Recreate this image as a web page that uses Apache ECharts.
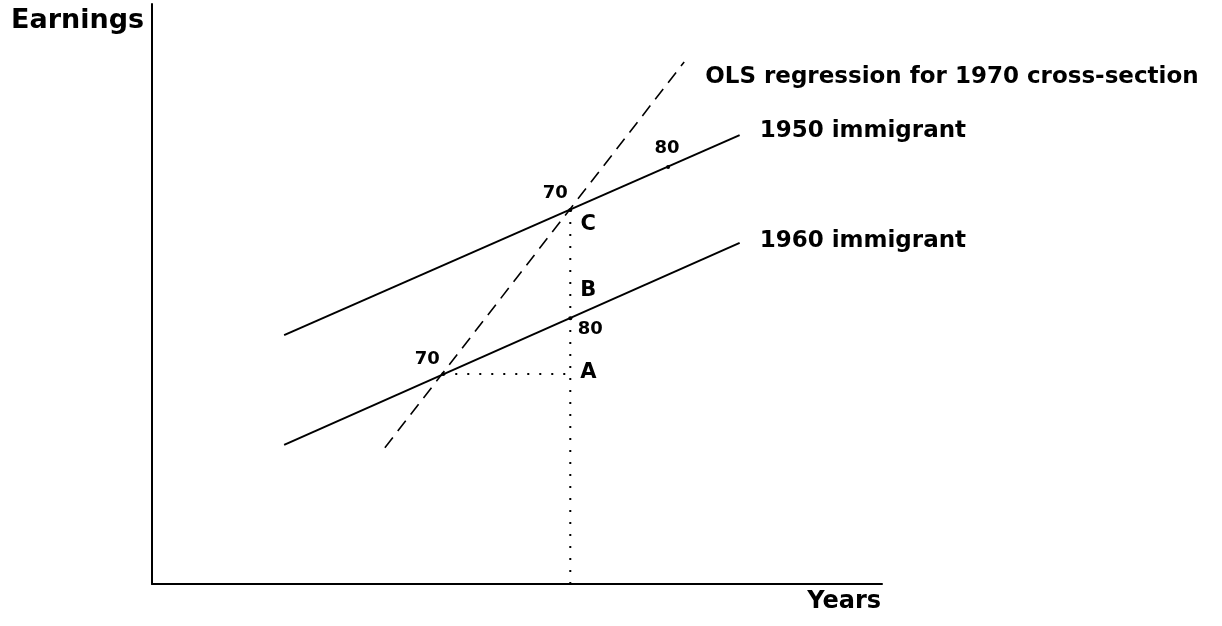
<!DOCTYPE html>
<html>
<head>
<meta charset="utf-8">
<script src="https://cdn.jsdelivr.net/npm/echarts@6/dist/echarts.min.js"></script>
<style>
  html, body { margin: 0; padding: 0; background: #fff; }
  #chart { width: 1222px; height: 626px; }
</style>
</head>
<body>
<div id="chart"></div>
<script>
// schematic units, 0..100 on both axes
const line1950 = [[18.1, 42.9], [80.5, 77.4]]
const line1960 = [[18.1, 24.0], [80.5, 58.8]]
const olsLine = [[31.9, 23.5], [72.9, 90.0]]
const dropLine = [[57.3, 64.5], [57.3, 0]]
const levelLine = [[39.9, 36.2], [57.3, 36.2]]
const lineNames = ['1950 immigrant', '1960 immigrant', 'OLS regression for 1970 cross-section']
const pointLabels = ['70', 'C', '80', 'B', '80', '70', 'A']
const pointCoords = [[57.3, 64.5], [57.3, 64.5], [70.7, 71.9], [57.3, 45.8], [57.3, 45.8], [39.9, 36.2], [57.3, 36.2]]

const FONT = 'DejaVu Sans'
// where each small label sits around its point, px
const labelOffsets = [[-15, -17], [18, 15], [-1, -19], [18, -28], [20, 11], [-16, -15], [18, -1]]
const dotted = [0, 2, 4, 5] // indices that get a little dot (the 70/80 marks)

function endLabeled (pts, text, offset) {
  return pts.map((p, i) => {
    if (i !== pts.length - 1) return { value: p }
    return {
      value: p,
      label: {
        show: true,
        position: 'right',
        distance: 0,
        offset: offset,
        formatter: text,
        color: '#000',
        fontFamily: FONT,
        fontWeight: 'bold',
        fontSize: 23
      }
    }
  })
}

function plainLine (data, lineStyle) {
  return {
    type: 'line',
    data: data,
    symbol: 'circle',
    symbolSize: 0,
    showSymbol: true,
    silent: true,
    itemStyle: { color: '#000' },
    label: { show: false },
    lineStyle: Object.assign({ color: '#000', width: 2 }, lineStyle)
  }
}

const option = {
  animation: false,
  backgroundColor: '#fff',
  grid: { left: 152, right: 340, top: 4, bottom: 42 },
  xAxis: {
    type: 'value',
    min: 0,
    max: 100,
    axisLine: { lineStyle: { color: '#000', width: 2 } },
    axisTick: { show: false },
    axisLabel: { show: false },
    splitLine: { show: false }
  },
  yAxis: {
    type: 'value',
    min: 0,
    max: 100,
    axisLine: { show: true, lineStyle: { color: '#000', width: 2 } },
    axisTick: { show: false },
    axisLabel: { show: false },
    splitLine: { show: false }
  },
  graphic: [
    {
      type: 'text',
      left: 11,
      top: 7,
      style: { text: 'Earnings', fill: '#000', font: 'bold 27px "DejaVu Sans"' }
    },
    {
      type: 'text',
      right: 341,
      top: 590,
      style: { text: 'Years', fill: '#000', font: 'bold 24px "DejaVu Sans"' }
    }
  ],
  series: [
    plainLine(endLabeled(line1950, lineNames[0], [20, -4]), {}),
    plainLine(endLabeled(line1960, lineNames[1], [20, -2]), {}),
    plainLine(endLabeled(olsLine, lineNames[2], [21, 15]), { width: 1.6, type: [13, 8] }),
    plainLine(dropLine, { width: 2, type: [2, 10] }),
    plainLine(levelLine, { width: 2, type: [2, 10] }),
    {
      type: 'scatter',
      silent: true,
      data: pointCoords.map((p, i) => ({
        value: p,
        name: pointLabels[i],
        symbolSize: dotted.indexOf(i) >= 0 ? 4 : 0,
        label: {
          offset: labelOffsets[i],
          fontSize: /\d/.test(pointLabels[i]) ? 18 : 21
        }
      })),
      itemStyle: { color: '#000', opacity: 1 },
      label: {
        show: true,
        position: 'inside',
        formatter: '{b}',
        color: '#000',
        textBorderWidth: 0,
        fontFamily: FONT,
        fontWeight: 'bold'
      }
    }
  ]
}

const chart = echarts.init(document.getElementById('chart'))
chart.setOption(option)
</script>
</body>
</html>
